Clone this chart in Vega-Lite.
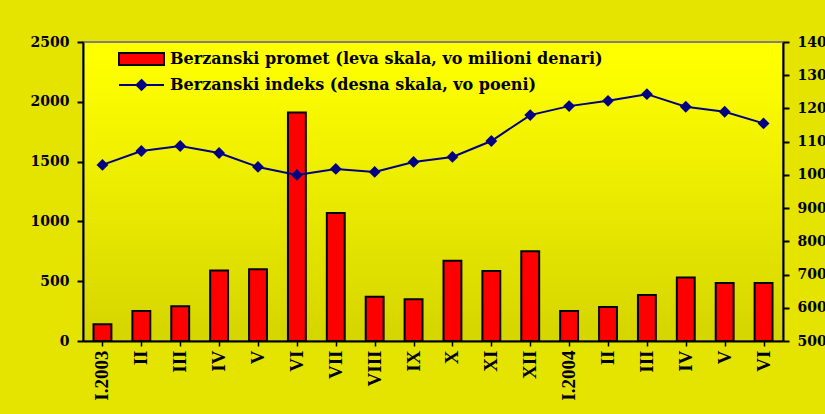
{
  "$schema": "https://vega.github.io/schema/vega-lite/v6.json",
  "width": 700,
  "height": 299,
  "autosize": {"type": "none"},
  "padding": {"left": 83, "top": 42, "right": 42, "bottom": 73},
  "background": "#E4E400",
  "config": {
    "view": {
      "fill": {"gradient": "linear", "x1": 0, "y1": 0, "x2": 0, "y2": 1,
        "stops": [{"offset": 0, "color": "#FFFF00"}, {"offset": 0.05, "color": "#FFFF00"}, {"offset": 1, "color": "#D5D500"}]},
      "stroke": "#808080",
      "strokeWidth": 2
    },
    "axis": {"grid": false}
  },
  "data": {
    "values": [
      {"mesec": "I.2003", "promet": 140, "indeks": 1030},
      {"mesec": "II.2003", "promet": 250, "indeks": 1072},
      {"mesec": "III.2003", "promet": 290, "indeks": 1087},
      {"mesec": "IV.2003", "promet": 590, "indeks": 1066},
      {"mesec": "V.2003", "promet": 600, "indeks": 1024},
      {"mesec": "VI.2003", "promet": 1910, "indeks": 1000},
      {"mesec": "VII.2003", "promet": 1070, "indeks": 1018},
      {"mesec": "VIII.2003", "promet": 370, "indeks": 1009},
      {"mesec": "IX.2003", "promet": 350, "indeks": 1039},
      {"mesec": "X.2003", "promet": 670, "indeks": 1054},
      {"mesec": "XI.2003", "promet": 585, "indeks": 1102},
      {"mesec": "XII.2003", "promet": 750, "indeks": 1180},
      {"mesec": "I.2004", "promet": 250, "indeks": 1207},
      {"mesec": "II.2004", "promet": 285, "indeks": 1223},
      {"mesec": "III.2004", "promet": 385, "indeks": 1243},
      {"mesec": "IV.2004", "promet": 530, "indeks": 1205},
      {"mesec": "V.2004", "promet": 485, "indeks": 1190},
      {"mesec": "VI.2004", "promet": 485, "indeks": 1155}
    ]
  },
  "layer": [
    {
      "mark": {"type": "bar", "stroke": "#000000", "strokeWidth": 2},
      "encoding": {
        "x": {
          "field": "mesec", "type": "nominal", "sort": null,
          "scale": {"paddingInner": 0.54, "paddingOuter": 0.27},
          "axis": {
            "orient": "bottom", "title": null,
            "labelExpr": "slice(datum.value,0,2) == 'I.' ? datum.value : split(datum.value,'.')[0]",
            "labelAngle": -90, "labelFont": "Liberation Serif", "labelFontWeight": "bold", "labelFontSize": 19,
            "labelColor": "#000000", "labelPadding": 9,
            "domainColor": "#000000", "domainWidth": 2,
            "ticks": false
          }
        },
        "y": {
          "field": "promet", "type": "quantitative",
          "scale": {"domain": [0, 2500], "nice": false, "zero": true},
          "axis": {
            "orient": "left", "title": null, "format": "d",
            "values": [0, 500, 1000, 1500, 2000, 2500],
            "labelFont": "DejaVu Serif", "labelFontWeight": "bold", "labelFontSize": 14, "labelColor": "#000000", "labelPadding": 8,
            "domainColor": "#000000", "domainWidth": 2,
            "tickColor": "#000000", "tickWidth": 2, "tickSize": 6
          }
        },
        "fill": {
          "datum": "Berzanski promet (leva skala, vo milioni denari)",
          "scale": {"range": ["#FF0000"]},
          "legend": {
            "orient": "none", "legendX": 42.5, "legendY": 1, "title": null, "padding": 0,
            "symbolType": "M-1.5,-0.4H1.5V0.4H-1.5Z", "symbolSize": 900,
            "symbolStrokeColor": "#000000", "symbolStrokeWidth": 2,
            "labelFont": "DejaVu Serif", "labelFontWeight": "bold", "labelFontSize": 16, "labelColor": "#000000",
            "labelOffset": 12.5, "labelLimit": 1000
          }
        }
      }
    },
    {
      "encoding": {
        "x": {
          "field": "mesec", "type": "nominal", "sort": null,
          "scale": {"paddingInner": 0, "paddingOuter": 0},
          "axis": {
            "orient": "bottom", "title": null, "labels": false, "domain": false,
            "bandPosition": 0,
            "ticks": true, "tickColor": "#000000", "tickWidth": 1.5, "tickSize": 5
          }
        },
        "y": {
          "field": "indeks", "type": "quantitative",
          "scale": {"domain": [500, 1400], "nice": false, "zero": false},
          "axis": {
            "orient": "right", "title": null, "format": "d",
            "values": [500, 600, 700, 800, 900, 1000, 1100, 1200, 1300, 1400],
            "labelFont": "DejaVu Serif", "labelFontWeight": "bold", "labelFontSize": 14, "labelColor": "#000000", "labelPadding": 8,
            "domainColor": "#000000", "domainWidth": 2,
            "tickColor": "#000000", "tickWidth": 2, "tickSize": 6
          }
        }
      },
      "layer": [
        {
          "mark": {"type": "line", "strokeWidth": 2},
          "encoding": {
            "stroke": {
              "datum": "Berzanski indeks (desna skala, vo poeni)",
              "scale": {"range": ["#000080"]},
              "legend": {
                "orient": "none", "legendX": 42.5, "legendY": 27, "title": null, "padding": 0,
                "symbolType": "M-1.5,0H1.5M0,-0.33L0.33,0L0,0.33L-0.33,0Z", "symbolSize": 900,
                "symbolFillColor": "#000080", "symbolStrokeColor": "#000080", "symbolStrokeWidth": 2,
                "labelFont": "DejaVu Serif", "labelFontWeight": "bold", "labelFontSize": 16, "labelColor": "#000000",
                "labelOffset": 12.5, "labelLimit": 1000
              }
            }
          }
        },
        {
          "mark": {"type": "point", "shape": "diamond", "filled": true, "fill": "#000080", "size": 140, "opacity": 1, "strokeWidth": 0},
          "encoding": {}
        }
      ]
    }
  ],
  "resolve": {"scale": {"y": "independent", "x": "independent"}}
}
